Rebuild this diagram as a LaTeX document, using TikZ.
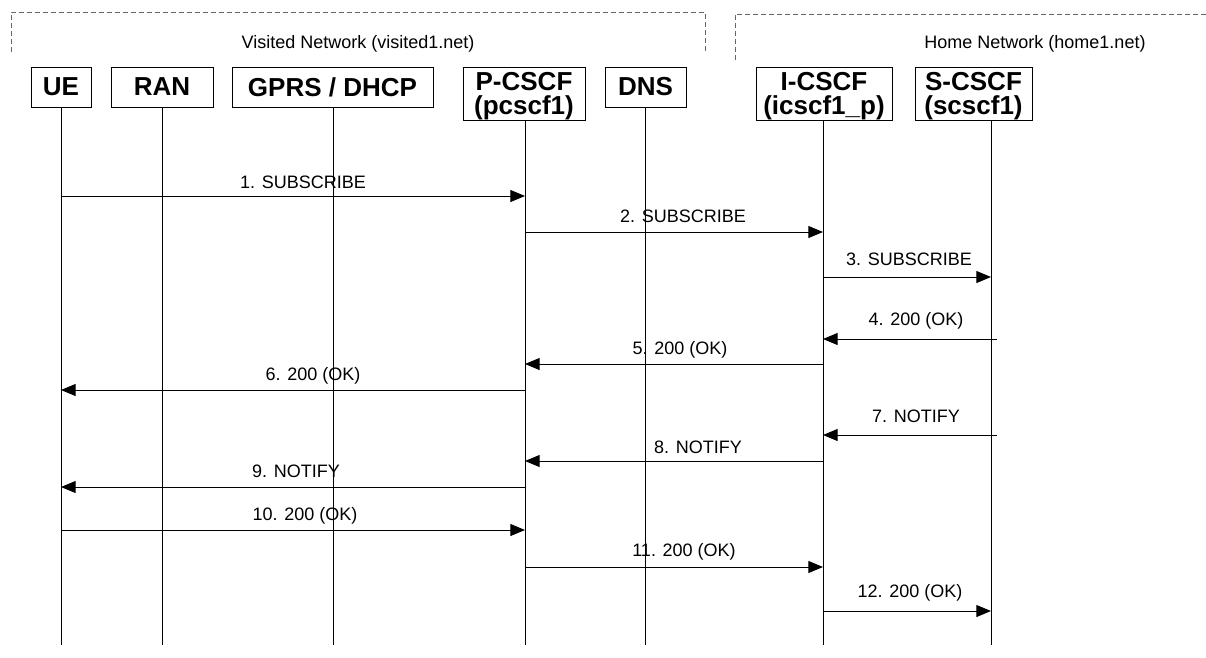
\documentclass[tikz,border=0pt]{standalone}
\usepackage{fontspec}
\setmainfont{Liberation Sans}
\usetikzlibrary{arrows.meta}
\newdimen\px \px=0.75pt
\tikzset{
  entity/.style={draw, line width=0.75pt, inner sep=0pt, align=center, font=\fontsize{19.5}{18}\selectfont\bfseries},
  tallentity/.style={entity, minimum height=53\px, text depth=-1pt},
  lifeline/.style={line width=0.75pt},
  msg/.style={line width=0.75pt, -{Triangle[length=11pt, width=9pt]}},
  msglabel/.style={font=\fontsize{13.5}{16}\selectfont},
  region/.style={draw=black!60, line width=0.75pt, dash pattern=on 3.75pt off 2.25pt},
}

\begin{document}
\begin{tikzpicture}[x=0.75pt, y=-0.75pt]
	\useasboundingbox (0,0) rectangle (1206,657);
	\draw[region] (11,52) -- (11,12) -- (705,12) -- (705,52);
	\draw[region] (735,60) -- (735,14) -- (1206,14);
	\node[msglabel] (visited) at (358,44) {Visited Network (visited1.net)};
	\node[msglabel] (home) at (1035,44) {Home Network (home1.net)};
	\node[entity, minimum width=60\px, minimum height=40\px] (ue) at (61,87) {UE};
	\node[entity, minimum width=102\px, minimum height=40\px] (ran) at (162,87) {RAN};
	\node[entity, minimum width=201\px, minimum height=40\px] (gprs) at (332.5,87) {GPRS / DHCP};
	\node[tallentity, minimum width=122\px] (pcscf) at (524,93.5) {P-CSCF\\(pcscf1)};
	\node[entity, minimum width=81\px, minimum height=40\px] (dns) at (645.5,87) {DNS};
	\node[tallentity, minimum width=136\px] (icscf) at (824,93.5) {I-CSCF\\(icscf1\_p)};
	\node[tallentity, minimum width=117\px] (scscf) at (973.5,93.5) {S-CSCF\\(scscf1)};
	\foreach \n/\x in {ue/61, ran/162, gprs/333, pcscf/525, dns/645, icscf/823, scscf/991}
		\draw[lifeline] (\n.south -| \x,0) -- (\x,645) coordinate (\n-line);
	\coordinate (scscfx-line) at (997,645);
	\foreach \y/\a/\b/\lx/\ly/\t [count=\i] in {
		196/ue/pcscf/303/182/1. SUBSCRIBE,
		232/pcscf/icscf/683/216/2. SUBSCRIBE,
		277/icscf/scscf/909/259/3. SUBSCRIBE,
		339/scscfx/icscf/916/321/4. 200 (OK),
		364/icscf/pcscf/680/350/5. 200 (OK),
		390/pcscf/ue/313/376/6. 200 (OK),
		435/scscfx/icscf/916/416/7. NOTIFY,
		461/icscf/pcscf/698/447/8. NOTIFY,
		487/pcscf/ue/296/471/9. NOTIFY,
		530/ue/pcscf/305/516/10. 200 (OK),
		567/pcscf/icscf/684/552/11. 200 (OK),
		611/icscf/scscf/910/593/12. 200 (OK)} {
		\draw[msg] (\a-line |- 0,\y) -- (\b-line |- 0,\y);
		\node[msglabel] (msg\i) at (\lx,\ly) {\t};
	}
\end{tikzpicture}
\end{document}
